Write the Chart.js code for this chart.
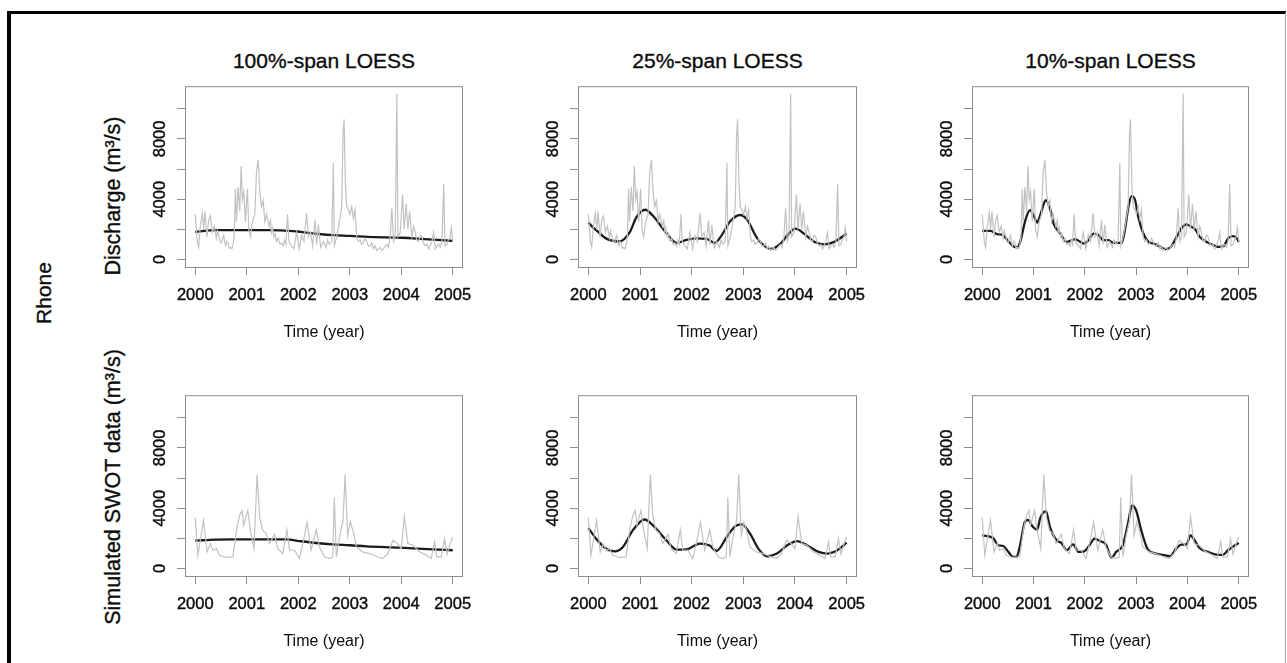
<!DOCTYPE html>
<html>
<head>
<meta charset="utf-8">
<script src="https://cdn.jsdelivr.net/npm/chart.js@4.4.1/dist/chart.umd.min.js"></script>
<style>
  body { margin: 0; background: #fff; width: 1287px; height: 663px; overflow: hidden; position: relative;
         font-family: "Liberation Sans", Arial, sans-serif; color: #0c0c0c; }
  .frame { position: absolute; left: 7px; top: 11px; width: 1274px; height: 700px;
           border-top: 3px solid #000; border-left: 4px solid #000; border-right: 1px solid #aaa; }
  canvas { position: absolute; }
  .txt { position: absolute; white-space: nowrap; transform: translate(-50%, -50%);
         -webkit-text-stroke: 0.35px #0c0c0c; }
  .rot { transform: translate(-50%, -50%) rotate(-90deg); }
</style>
</head>
<body>
<div class="frame"></div>
<script>
// tick labels and titles
const years = [2000, 2001, 2002, 2003, 2004, 2005];
const yTicks = [0, 2000, 4000, 6000, 8000, 10000];
const yTickLabels = [0, 4000, 8000];
const columnTitles = ["100%-span LOESS", "25%-span LOESS", "10%-span LOESS"];
const rowTitles = ["Discharge (m³/s)", "Simulated SWOT data (m³/s)"];
const riverName = "Rhone";
const xTitle = "Time (year)";

// observed discharge [year, m3/s]
const discharge = [
  [2000.000,3000],[2000.039,1200],[2000.065,800],[2000.097,2200],[2000.136,3100],[2000.162,2000],
  [2000.188,3200],[2000.227,1500],[2000.260,2600],[2000.292,2900],[2000.331,1800],[2000.370,2200],
  [2000.409,1400],[2000.430,1900],[2000.461,1500],[2000.480,1200],[2000.506,1100],[2000.530,1400],
  [2000.552,1600],[2000.570,1100],[2000.591,900],[2000.610,1200],[2000.636,1100],[2000.660,750],
  [2000.682,800],[2000.710,700],[2000.734,1000],[2000.755,1500],[2000.779,4700],[2000.799,2500],
  [2000.831,4800],[2000.864,3200],[2000.890,6200],[2000.916,4000],[2000.942,4500],[2000.974,2500],
  [2001.013,4700],[2001.039,2000],[2001.071,1500],[2001.110,2500],[2001.156,3000],[2001.188,5800],
  [2001.221,6600],[2001.253,4500],[2001.286,3500],[2001.318,3900],[2001.351,2500],[2001.383,3000],
  [2001.435,2200],[2001.460,2600],[2001.481,1800],[2001.500,2100],[2001.526,1500],[2001.550,1700],
  [2001.578,1200],[2001.610,1400],[2001.643,1000],[2001.670,1100],[2001.708,900],[2001.735,1300],
  [2001.760,1000],[2001.792,3000],[2001.818,1200],[2001.870,900],[2001.916,700],[2001.968,1800],
  [2002.019,700],[2002.065,1600],[2002.110,1200],[2002.162,3100],[2002.195,1500],[2002.240,1800],
  [2002.279,900],[2002.325,2600],[2002.357,1000],[2002.390,2300],[2002.435,800],[2002.487,1200],
  [2002.539,800],[2002.570,1300],[2002.604,1000],[2002.649,1200],[2002.682,6400],[2002.701,900],
  [2002.747,1500],[2002.799,2500],[2002.844,3500],[2002.870,8300],[2002.890,9300],[2002.916,5000],
  [2002.942,3500],[2002.974,3300],[2003.006,3000],[2003.039,3500],[2003.071,2700],[2003.104,3300],
  [2003.136,1500],[2003.165,1200],[2003.201,1300],[2003.230,1000],[2003.266,1100],[2003.300,1400],
  [2003.331,1200],[2003.360,900],[2003.396,900],[2003.430,1100],[2003.461,700],[2003.490,900],
  [2003.526,600],[2003.560,700],[2003.591,800],[2003.620,600],[2003.656,700],[2003.690,900],
  [2003.721,1000],[2003.750,800],[2003.786,1500],[2003.818,3400],[2003.851,1200],[2003.883,1500],
  [2003.916,11000],[2003.935,1500],[2003.981,1800],[2004.026,4300],[2004.058,2000],[2004.097,3700],
  [2004.130,2000],[2004.162,3200],[2004.208,1500],[2004.240,2200],[2004.273,1800],[2004.300,1300],
  [2004.338,1200],[2004.370,1600],[2004.403,1500],[2004.430,1100],[2004.468,900],[2004.500,1000],
  [2004.532,700],[2004.560,900],[2004.597,1200],[2004.630,1800],[2004.662,700],[2004.695,900],
  [2004.727,1000],[2004.760,800],[2004.792,1200],[2004.825,5000],[2004.851,900],[2004.890,1000],
  [2004.915,1300],[2004.942,1400],[2004.974,2100],[2005.000,1200]
];

// simulated SWOT samples [year, m3/s]
const swot = [
  [2000.00,3360],[2000.05,880],[2000.16,3190],[2000.23,1100],[2000.29,1650],[2000.34,1210],
  [2000.41,1320],[2000.47,880],[2000.60,730],[2000.73,770],[2000.80,2530],[2000.86,3520],
  [2000.91,3850],[2000.94,2860],[2001.02,3850],[2001.07,2530],[2001.14,1320],[2001.20,6220],
  [2001.25,3410],[2001.31,2530],[2001.38,2310],[2001.44,1650],[2001.54,2260],[2001.60,1320],
  [2001.70,990],[2001.78,2570],[2001.83,1210],[2001.93,1210],[2002.02,660],[2002.09,1650],
  [2002.17,3080],[2002.25,1210],[2002.35,2570],[2002.41,1430],[2002.51,770],[2002.61,660],
  [2002.67,770],[2002.70,4730],[2002.74,770],[2002.80,2090],[2002.87,3190],[2002.91,6220],
  [2002.96,2200],[2003.01,3080],[2003.07,2420],[2003.13,1430],[2003.25,1100],[2003.38,990],
  [2003.51,810],[2003.64,660],[2003.74,990],[2003.84,1870],[2003.93,1650],[2004.00,1320],
  [2004.06,3450],[2004.13,1650],[2004.23,1540],[2004.36,1100],[2004.49,880],[2004.58,660],
  [2004.65,1760],[2004.69,770],[2004.78,770],[2004.84,1980],[2004.89,950],[2004.95,1650],
  [2005.00,2090]
];

// LOESS fits of the discharge
const loess100Q = [
  [2000.0,1830],[2000.4,1945],[2001.0,1950],[2001.4,1945],[2001.9,1880],[2002.05,1830],
  [2002.4,1690],[2002.7,1610],[2003.0,1570],[2003.35,1500],[2004.0,1440],[2004.3,1390],
  [2004.7,1300],[2005.0,1240]
];
const loess25Q = [
  [2000.0,2450],[2000.1,2100],[2000.2,1800],[2000.34,1400],[2000.6,1200],[2000.8,1800],
  [2000.93,2800],[2001.1,3300],[2001.25,2900],[2001.5,1800],[2001.71,1100],[2001.9,1300],
  [2002.1,1400],[2002.29,1370],[2002.45,1100],[2002.58,1600],[2002.75,2550],[2002.94,2950],
  [2003.07,2650],[2003.27,1400],[2003.53,700],[2003.72,1050],[2003.85,1600],[2004.01,2050],
  [2004.18,1700],[2004.37,1170],[2004.56,1000],[2004.76,1170],[2005.0,1720]
];
const loess10Q = [
  [2000.0,1900],[2000.16,1900],[2000.29,1680],[2000.39,1650],[2000.49,1280],[2000.62,840],
  [2000.68,800],[2000.74,1170],[2000.84,2600],[2000.93,3270],[2001.0,2940],[2001.07,2450],
  [2001.13,2940],[2001.24,3930],[2001.33,3270],[2001.39,2390],[2001.52,1720],[2001.65,1170],
  [2001.75,1280],[2001.81,1350],[2001.91,1170],[2001.99,1060],[2002.07,1280],[2002.17,1720],
  [2002.27,1610],[2002.36,1280],[2002.46,1280],[2002.56,1100],[2002.72,1100],[2002.78,1950],
  [2002.85,3500],[2002.91,4200],[2002.98,3930],[2003.04,2830],[2003.14,1720],[2003.24,1170],
  [2003.34,1060],[2003.47,840],[2003.56,690],[2003.66,770],[2003.79,1500],[2003.89,2100],
  [2003.98,2320],[2004.08,2170],[2004.15,2010],[2004.24,1500],[2004.37,1170],[2004.5,950],
  [2004.6,840],[2004.7,880],[2004.79,1390],[2004.89,1550],[2004.95,1460],[2005.0,1170]
];

// LOESS fits of the SWOT samples
const loess100S = [
  [2000.0,1850],[2000.4,1910],[2000.75,1930],[2001.4,1935],[2001.77,1930],[2002.02,1820],
  [2002.35,1690],[2002.67,1600],[2003.0,1540],[2003.32,1470],[2003.97,1380],[2004.61,1270],
  [2005.0,1210]
];
const loess25S = [
  [2000.0,2680],[2000.15,1980],[2000.34,1320],[2000.51,1140],[2000.67,1430],[2000.86,2530],
  [2001.09,3250],[2001.25,2860],[2001.51,1870],[2001.71,1250],[2001.9,1270],[2002.16,1650],
  [2002.35,1520],[2002.48,1160],[2002.68,2090],[2002.84,2790],[2002.97,2920],[2003.13,2310],
  [2003.29,1320],[2003.46,810],[2003.65,990],[2003.85,1540],[2004.04,1820],[2004.23,1540],
  [2004.46,1100],[2004.62,990],[2004.82,1210],[2005.0,1710]
];
const loess10S = [
  [2000.0,2200],[2000.21,2020],[2000.31,1540],[2000.41,1490],[2000.51,1100],[2000.6,770],
  [2000.67,770],[2000.73,1430],[2000.83,3080],[2000.89,3230],[2000.99,2750],[2001.07,2570],
  [2001.13,3340],[2001.24,3800],[2001.32,2750],[2001.45,1870],[2001.54,1700],[2001.65,1210],
  [2001.77,1600],[2001.88,1100],[2001.99,1140],[2002.09,1540],[2002.19,1980],[2002.29,1820],
  [2002.41,1600],[2002.52,730],[2002.61,1100],[2002.74,1540],[2002.84,2970],[2002.92,4180],
  [2003.0,3850],[2003.1,2530],[2003.23,1250],[2003.39,990],[2003.52,900],[2003.66,810],
  [2003.78,1320],[2003.88,1580],[2003.98,1600],[2004.06,2200],[2004.14,1870],[2004.23,1380],
  [2004.4,1100],[2004.56,920],[2004.69,900],[2004.79,1210],[2004.88,1430],[2005.0,1690]
];

const rawSeries = [discharge, swot];
const fitSeries = [[loess100Q, loess25Q, loess10Q], [loess100S, loess25S, loess10S]];

// layout (plot boxes in page pixels)
const colX = [[185, 463], [578, 857], [972, 1249]];
const rowY = [[86, 267], [395, 576]];
const M = { left: 60, top: 10, right: 25, bottom: 80 };
const FONT = '"Liberation Sans", Arial, sans-serif';
const INK = '#0c0c0c';

function addText(text, x, y, size, rot) {
  const d = document.createElement('div');
  d.className = 'txt' + (rot ? ' rot' : '');
  d.textContent = text;
  d.style.left = x + 'px';
  d.style.top = y + 'px';
  d.style.fontSize = size + 'px';
  document.body.appendChild(d);
}

columnTitles.forEach((t, c) => addText(t, (colX[c][0] + colX[c][1]) / 2, 61, 21));
addText(rowTitles[0], 113, 196, 21.5, true);
addText(rowTitles[1], 113, 487, 21.5, true);
addText(riverName, 44, 293, 21, true);

const boxPlugin = {
  id: 'box',
  afterDatasetsDraw(chart) {
    const { ctx, chartArea: a } = chart;
    ctx.save();
    ctx.strokeStyle = '#8c8c8c';
    ctx.lineWidth = 1;
    ctx.strokeRect(a.left + 0.5, a.top + 0.5, a.right - a.left - 1, a.bottom - a.top);
    ctx.restore();
  },
  afterDraw(chart) {
    const { ctx, chartArea: a, scales } = chart;
    ctx.save();
    ctx.font = '16.5px ' + FONT;
    ctx.fillStyle = INK;
    ctx.strokeStyle = INK;
    ctx.lineWidth = 0.4;
    ctx.textAlign = 'center';
    ctx.textBaseline = 'middle';
    yTickLabels.forEach(v => {
      ctx.save();
      ctx.translate(a.left - 25, scales.y.getPixelForValue(v));
      ctx.rotate(-Math.PI / 2);
      ctx.fillText(String(v), 0, 0);
      ctx.strokeText(String(v), 0, 0);
      ctx.restore();
    });
    ctx.restore();
  }
};

const toXY = arr => arr.map(p => ({ x: p[0], y: p[1] }));

rowY.forEach((ry, r) => {
  colX.forEach((cx, c) => {
    const w = cx[1] - cx[0] + M.left + M.right;
    const h = ry[1] - ry[0] + M.top + M.bottom;
    const cv = document.createElement('canvas');
    cv.width = w; cv.height = h;
    cv.style.left = (cx[0] - M.left) + 'px';
    cv.style.top = (ry[0] - M.top) + 'px';
    cv.style.width = w + 'px'; cv.style.height = h + 'px';
    document.body.appendChild(cv);

    new Chart(cv.getContext('2d'), {
      type: 'line',
      data: {
        datasets: [
          { data: toXY(rawSeries[r]), borderColor: '#c2c2c2', borderWidth: 1.2, pointRadius: 0, tension: 0 },
          { data: toXY(fitSeries[r][c]), borderColor: '#1c1c1c', borderWidth: 2.3, pointRadius: 0,
            cubicInterpolationMode: 'monotone' }
        ]
      },
      options: {
        responsive: false,
        animation: false,
        layout: { padding: { left: 0, top: M.top, right: M.right, bottom: 0 } },
        plugins: { legend: { display: false }, tooltip: { enabled: false } },
        scales: {
          x: {
            type: 'linear', min: 1999.8, max: 2005.2,
            afterBuildTicks: s => { s.ticks = years.map(v => ({ value: v })); },
            afterFit: s => { s.height = M.bottom; },
            grid: { drawOnChartArea: false, drawTicks: true, tickLength: 8, color: '#8c8c8c' },
            border: { display: false },
            ticks: { padding: 11, color: INK, font: { family: FONT, size: 16.5 }, maxRotation: 0,
                     textStrokeColor: INK, textStrokeWidth: 0.4, callback: v => String(v) },
            title: { display: true, text: xTitle, color: INK, font: { family: FONT, size: 16 },
                     padding: { top: 0, bottom: 5 } }
          },
          y: {
            type: 'linear', min: -500, max: 11500,
            afterBuildTicks: s => { s.ticks = yTicks.map(v => ({ value: v })); },
            afterFit: s => { s.width = M.left; },
            grid: { drawOnChartArea: false, drawTicks: true, tickLength: 8, color: '#8c8c8c' },
            border: { display: false },
            ticks: { callback: () => '' }
          }
        }
      },
      plugins: [boxPlugin]
    });
  });
});
</script>
</body>
</html>
